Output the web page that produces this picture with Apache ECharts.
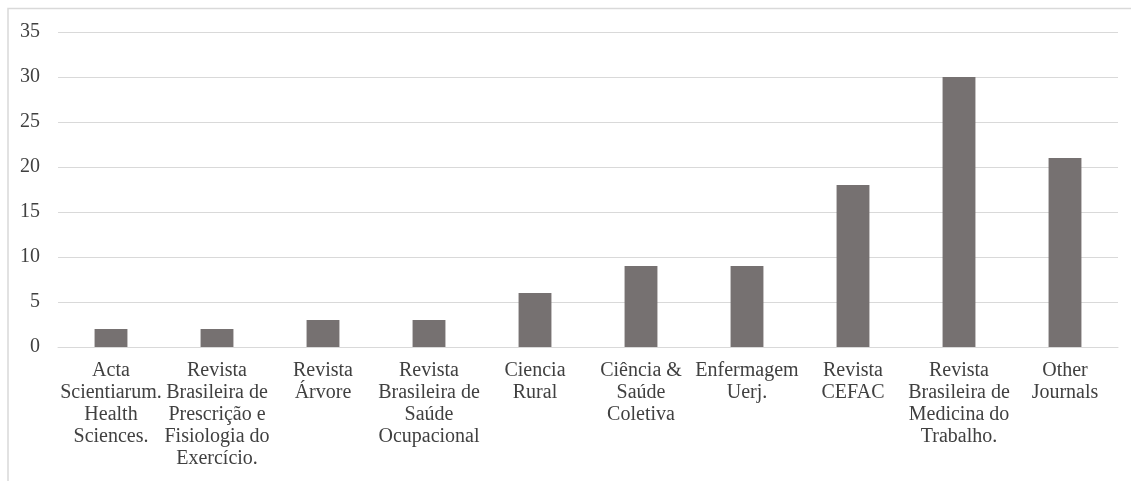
<!DOCTYPE html>
<html>
<head>
<meta charset="utf-8">
<script src="https://cdn.jsdelivr.net/npm/echarts@6/dist/echarts.min.js"></script>
<style>
html,body{margin:0;padding:0;background:#fff;}
#c{width:1131px;height:481px;}
</style>
</head>
<body>
<div id="c"></div>
<script>
const categories = [
  "Acta\nScientiarum.\nHealth\nSciences.",
  "Revista\nBrasileira de\nPrescrição e\nFisiologia do\nExercício.",
  "Revista\nÁrvore",
  "Revista\nBrasileira de\nSaúde\nOcupacional",
  "Ciencia\nRural",
  "Ciência &\nSaúde\nColetiva",
  "Enfermagem\nUerj.",
  "Revista\nCEFAC",
  "Revista\nBrasileira de\nMedicina do\nTrabalho.",
  "Other\nJournals"
];
const values = [2, 2, 3, 3, 6, 9, 9, 18, 30, 21];
const yMin = 0, yMax = 35, yStep = 5;

const chart = echarts.init(document.getElementById('c'), null, {renderer: 'canvas'});
const font = 'Liberation Serif, Times New Roman, serif';
chart.setOption({
  animation: false,
  backgroundColor: '#ffffff',
  graphic: [{
    type: 'rect',
    shape: {x: 8, y: 8.5, width: 1140, height: 500},
    style: {fill: 'none', stroke: '#d9d9d9', lineWidth: 1.5},
    silent: true
  }],
  grid: {left: 58, right: 13, top: 32, bottom: 134},
  xAxis: {
    type: 'category',
    data: categories,
    axisLine: {show: true, lineStyle: {color: '#d9d9d9', width: 1}},
    axisTick: {show: false},
    axisLabel: {
      interval: 0,
      margin: 13,
      color: '#404040',
      fontFamily: font,
      fontSize: 20,
      lineHeight: 22,
      align: 'center',
      hideOverlap: false
    }
  },
  yAxis: {
    type: 'value',
    min: yMin, max: yMax, interval: yStep,
    axisLine: {show: false},
    axisTick: {show: false},
    splitLine: {lineStyle: {color: '#d9d9d9', width: 1}},
    axisLabel: {color: '#404040', fontFamily: font, fontSize: 20, margin: 18}
  },
  series: [{
    type: 'bar',
    data: values,
    barWidth: '31%',
    itemStyle: {color: '#767171'}
  }]
});
</script>
</body>
</html>
